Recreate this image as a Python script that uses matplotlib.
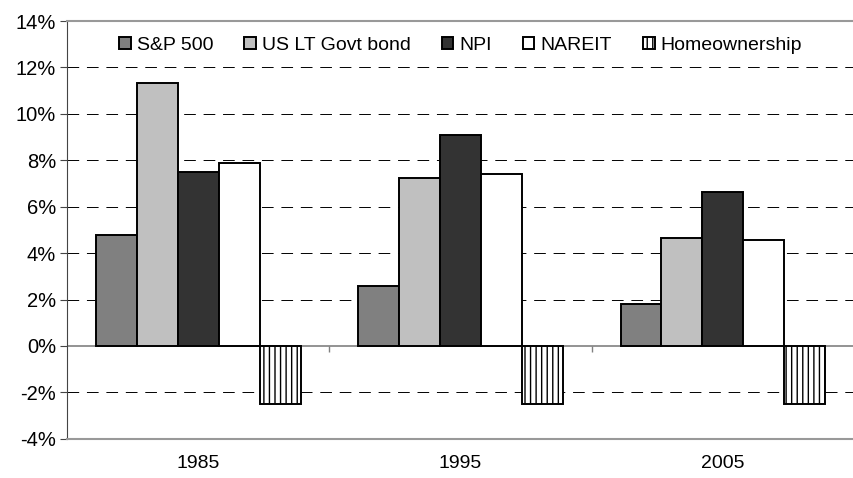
import matplotlib.pyplot as plt
import numpy as np

plt.rcParams['font.family'] = ['Liberation Sans', 'DejaVu Sans']

years = ["1985", "1995", "2005"]
series = ["S&P 500", "US LT Govt bond", "NPI", "NAREIT", "Homeownership"]
sp500 = [4.8, 2.6, 1.8]
lt_bond = [11.35, 7.25, 4.65]
npi = [7.5, 9.1, 6.65]
nareit = [7.9, 7.4, 4.55]
home = [-2.5, -2.5, -2.5]
values = [sp500, lt_bond, npi, nareit, home]

colors = ["#808080", "#c0c0c0", "#333333", "#ffffff", "#ffffff"]
hatches = [None, None, None, None, "|||"]

fig = plt.figure(figsize=(8.54, 4.78), dpi=100)
ax = fig.add_axes([0.0785, 0.082, 0.9215, 0.874])

x = np.arange(len(years))
w = 0.156
for i, (name, vals) in enumerate(zip(series, values)):
    ax.bar(x + (i - 2) * w, vals, w, color=colors[i], edgecolor="black",
           linewidth=1.4, hatch=hatches[i], label=name, zorder=3)

ax.set_xlim(-0.5, 2.5)
ax.set_ylim(-4, 14)
ax.set_yticks(range(-4, 15, 2))
ax.set_yticklabels([f"{v}%" for v in range(-4, 15, 2)], fontsize=14.5)
ax.set_xticks(x)
ax.set_xticklabels(years, fontsize=14)
ax.tick_params(axis="x", length=0, pad=12)
ax.tick_params(axis="y", length=5, color="#444444", pad=3)

for v in [-2, 2, 4, 6, 8, 10, 12]:
    ax.axhline(v, color="black", linestyle=(0, (12, 8)), linewidth=0.7, zorder=1)
ax.axhline(0, color="#808080", linewidth=1.2, zorder=2)
ax.vlines([0.5, 1.5], -0.25, 0, color="#808080", linewidth=1, zorder=2)

for s in ["top", "bottom"]:
    ax.spines[s].set_color("#999999")
    ax.spines[s].set_linewidth(1.5)
ax.spines["left"].set_color("#444444")
ax.spines["right"].set_visible(False)

leg = ax.legend(loc="upper center", bbox_to_anchor=(0.5, 1.0), ncol=5,
                frameon=True, fontsize=14, handlelength=0.6, handleheight=0.6,
                handletextpad=0.3, columnspacing=1.6, borderaxespad=0.4)
leg.get_frame().set_edgecolor("none")
leg.get_frame().set_facecolor("white")
leg.get_frame().set_alpha(1)
leg.set_zorder(5)

fig.savefig("out.png", dpi=100)
